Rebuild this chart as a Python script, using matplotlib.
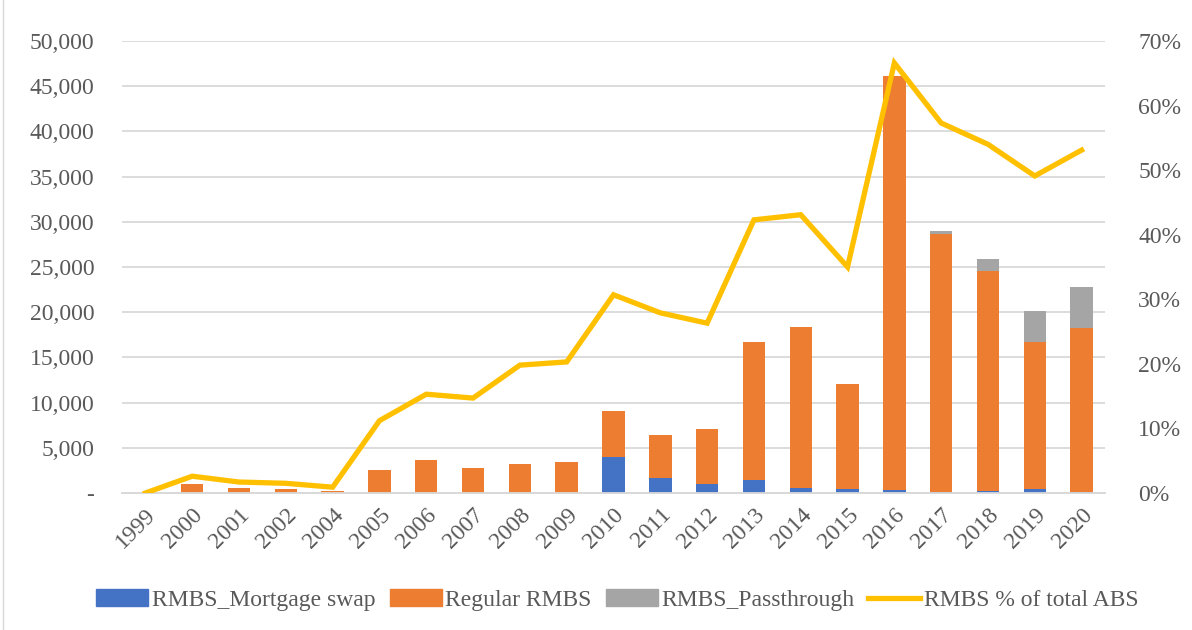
import numpy as np
import matplotlib.pyplot as plt
from matplotlib.ticker import FuncFormatter, MultipleLocator
from matplotlib.patches import Rectangle

# Datos
years = ['1999', '2000', '2001', '2002', '2004', '2005', '2006', '2007', '2008', '2009',
         '2010', '2011', '2012', '2013', '2014', '2015', '2016', '2017', '2018', '2019', '2020']
mortgage_swap = [0, 0, 0, 0, 0, 0, 0, 0, 0, 0,
                 4000, 1650, 1000, 1470, 600, 480, 330, 100, 200, 400, 150]
regular_rmbs = [0, 1000, 600, 400, 200, 2500, 3600, 2800, 3200, 3450,
                5100, 4800, 6050, 15230, 17760, 11580, 45770, 28600, 24400, 16300, 18140]
passthrough = [0, 0, 0, 0, 0, 0, 0, 0, 0, 0,
               0, 0, 0, 0, 0, 0, 0, 250, 1300, 3430, 4500]
rmbs_pct = [0.0, 2.6, 1.7, 1.5, 0.9, 11.2, 15.3, 14.7, 19.8, 20.3,
            30.7, 27.9, 26.3, 42.3, 43.1, 35.0, 66.6, 57.3, 54.0, 49.1, 53.1]

plt.rcParams['font.family'] = ['Liberation Serif', 'DejaVu Serif']

c_blue = '#4472C4'
c_orange = '#ED7D31'
c_gray = '#A5A5A5'
c_yellow = '#FFC000'
c_text = '#595959'

fig = plt.figure(figsize=(11.92, 6.3), dpi=100)
ax = fig.add_axes([122 / 1192, 1 - 493 / 630, 983 / 1192, 452 / 630])
ax2 = ax.twinx()

x = np.arange(len(years))
swap = np.array(mortgage_swap)
reg = np.array(regular_rmbs)
pas = np.array(passthrough)

ax.bar(x, swap, width=0.48, color=c_blue, zorder=3)
ax.bar(x, reg, width=0.48, bottom=swap, color=c_orange, zorder=3)
ax.bar(x, pas, width=0.48, bottom=swap + reg, color=c_gray, zorder=3)

ax2.plot(x, rmbs_pct, color=c_yellow, linewidth=3.8, solid_joinstyle='miter', zorder=4)

ax.set_xlim(-0.5, len(years) - 0.5)
ax.set_ylim(0, 50000)
ax2.set_ylim(0, 70)

ax.yaxis.set_major_locator(MultipleLocator(5000))
ax.yaxis.set_major_formatter(FuncFormatter(lambda v, p: '-' if v == 0 else f'{int(v):,}'))
ax2.yaxis.set_major_locator(MultipleLocator(10))
ax2.yaxis.set_major_formatter(FuncFormatter(lambda v, p: f'{int(v)}%'))

ax.set_xticks(x)
ax.set_xticklabels(years, rotation=45, ha='right', rotation_mode='anchor')

ax.grid(axis='y', color='#D9D9D9', linewidth=1.3, zorder=0)
ax.set_axisbelow(True)

for a in (ax, ax2):
    for s in ['top', 'left', 'right']:
        a.spines[s].set_visible(False)
    a.spines['bottom'].set_color('#D9D9D9')
    a.spines['bottom'].set_linewidth(1.3)
    a.tick_params(length=0, labelsize=17, colors=c_text)

ax.tick_params(axis='y', pad=20)
ax2.tick_params(axis='y', pad=24)
ax.tick_params(axis='x', pad=8)

handles = [Rectangle((0, 0), 1, 1, color=c_blue),
           Rectangle((0, 0), 1, 1, color=c_orange),
           Rectangle((0, 0), 1, 1, color=c_gray),
           plt.Line2D([0], [0], color=c_yellow, linewidth=3.8)]
labels = ['RMBS_Mortgage swap', 'Regular RMBS', 'RMBS_Passthrough', 'RMBS % of total ABS']
fig.legend(handles, labels, loc='center', bbox_to_anchor=(0.518, 1 - 600 / 630), ncol=4,
           frameon=False, fontsize=17, labelcolor=c_text, handlelength=2.2,
           handletextpad=0.15, columnspacing=0.6)

# borde del área del gráfico
fig.patches.append(Rectangle((3 / 1192, -0.01), 1.1, 1.02, transform=fig.transFigure,
                             fill=False, edgecolor='#D9D9D9', linewidth=1))

plt.savefig('out.png', dpi=100)
plt.close()
